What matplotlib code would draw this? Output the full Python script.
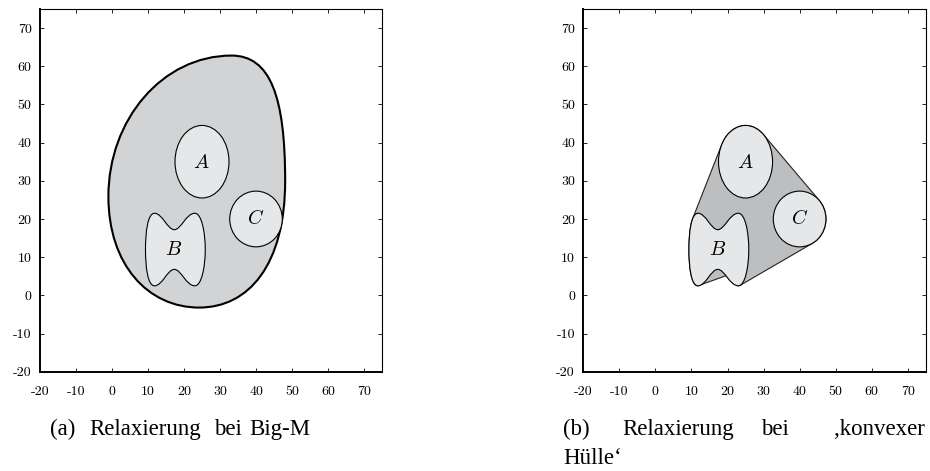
import numpy as np
import matplotlib
matplotlib.use("Agg")
import matplotlib.pyplot as plt
from matplotlib.path import Path
from matplotlib.patches import PathPatch, Ellipse, Polygon

plt.rcParams["mathtext.fontset"] = "cm"
plt.rcParams["axes.unicode_minus"] = False

# axis ticks (both axes)
ticks = [-20, -10, 0, 10, 20, 30, 40, 50, 60, 70]
tick_labels = [str(t) for t in ticks]

# set A: ellipse
A_center = (25.0, 35.0)
A_radii = (7.5, 9.5)

# set C: circle
C_center = (40.0, 20.0)
C_radius = 7.3

# set B: closed cubic bezier (start point, then groups of 3)
B_verts = [
    (11.8, 21.5),
    (14.0, 21.5), (15.4, 17.2), (17.3, 17.2),
    (19.2, 17.2), (20.6, 21.5), (23.0, 21.5),
    (24.9, 21.5), (25.9, 16.5), (25.9, 12.0),
    (25.9, 7.5), (24.9, 2.5), (23.0, 2.5),
    (20.6, 2.5), (19.2, 6.8), (17.3, 6.8),
    (15.4, 6.8), (14.0, 2.5), (11.8, 2.5),
    (9.9, 2.5), (9.3, 7.5), (9.3, 12.0),
    (9.3, 16.5), (9.9, 21.5), (11.8, 21.5),
]

# big-M relaxation outline: top, right, bottom, left extremes
blob_verts = [
    (33.2, 62.8),
    (44.0, 62.8), (48.1, 52.0), (48.1, 30.0),
    (48.1, 8.0), (38.0, -3.2), (24.2, -3.2),
    (10.0, -3.2), (-1.0, 8.0), (-1.0, 25.9),
    (-1.0, 46.0), (14.0, 62.8), (33.2, 62.8),
]

# point on the lower wave of B where the hull edge ends
hull_notch = (19.8, 5.3)

letters = {"A": (24.8, 34.8), "B": (17.2, 11.9), "C": (40.0, 20.0)}

col_blob = "#d1d3d4"
col_hull = "#bcbec0"
col_set = "#e6e7e8"


def bezier_points(verts, n=60):
    v = np.array(verts)
    out = []
    t = np.linspace(0, 1, n)[:, None]
    for i in range(0, len(v) - 1, 3):
        p0, p1, p2, p3 = v[i], v[i + 1], v[i + 2], v[i + 3]
        out.append((1 - t) ** 3 * p0 + 3 * (1 - t) ** 2 * t * p1
                   + 3 * (1 - t) * t ** 2 * p2 + t ** 3 * p3)
    return np.vstack(out)


def bezier_path(verts):
    codes = [Path.MOVETO] + [Path.CURVE4] * (len(verts) - 1)
    return Path(verts, codes)


def convex_hull(pts):
    pts = sorted(map(tuple, pts))

    def cross(o, a, b):
        return (a[0] - o[0]) * (b[1] - o[1]) - (a[1] - o[1]) * (b[0] - o[0])

    lower, upper = [], []
    for q in pts:
        while len(lower) >= 2 and cross(lower[-2], lower[-1], q) <= 0:
            lower.pop()
        lower.append(q)
    for q in reversed(pts):
        while len(upper) >= 2 and cross(upper[-2], upper[-1], q) <= 0:
            upper.pop()
        upper.append(q)
    return lower[:-1] + upper[:-1]


def draw_sets(ax):
    ax.add_patch(Ellipse(A_center, 2 * A_radii[0], 2 * A_radii[1],
                         facecolor=col_set, edgecolor="black", lw=0.8, zorder=3))
    ax.add_patch(Ellipse(C_center, 2 * C_radius, 2 * C_radius,
                         facecolor=col_set, edgecolor="black", lw=0.8, zorder=3))
    ax.add_patch(PathPatch(bezier_path(B_verts), facecolor=col_set,
                           edgecolor="black", lw=0.8, zorder=3))
    for name, (lx, ly) in letters.items():
        ax.text(lx, ly, "$" + name + "$", fontsize=14.5, ha="center",
                va="center", zorder=4)


def style_axes(ax):
    ax.set_xlim(-20, 75)
    ax.set_ylim(-20, 75)
    ax.set_xticks(ticks)
    ax.set_yticks(ticks)
    ax.set_xticklabels(tick_labels, fontfamily="cmr10", fontsize=10)
    ax.set_yticklabels(tick_labels, fontfamily="cmr10", fontsize=10)
    ax.tick_params(direction="in", top=True, right=True, length=3.2, width=0.6)
    ax.tick_params(axis="x", pad=10)
    ax.tick_params(axis="y", pad=6)
    for s in ["left", "bottom"]:
        ax.spines[s].set_linewidth(1.4)
    for s in ["top", "right"]:
        ax.spines[s].set_linewidth(0.8)


fig = plt.figure(figsize=(9.3, 4.71), dpi=100)
W, H = 930.0, 471.0

ax1 = fig.add_axes([40 / W, 1 - 371.7 / H, 342 / W, 362.7 / H])
ax2 = fig.add_axes([583.3 / W, 1 - 371.7 / H, 342.5 / W, 362.7 / H])

# (a) big-M relaxation
ax1.add_patch(PathPatch(bezier_path(blob_verts), facecolor=col_blob,
                        edgecolor="black", lw=1.5, zorder=2))
draw_sets(ax1)
style_axes(ax1)

# (b) convex hull relaxation
t = np.linspace(0, 2 * np.pi, 400)
A_pts = np.column_stack([A_center[0] + A_radii[0] * np.cos(t),
                         A_center[1] + A_radii[1] * np.sin(t)])
C_pts = np.column_stack([C_center[0] + C_radius * np.cos(t),
                         C_center[1] + C_radius * np.sin(t)])
B_pts = bezier_points(B_verts)
hull = convex_hull(np.vstack([A_pts, B_pts, C_pts]))

# replace the flat bottom edge of B by the edge to the wave point
k = np.argmin(np.hypot(B_pts[:, 0] - hull_notch[0], B_pts[:, 1] - hull_notch[1]))
notch_pt = tuple(B_pts[k])
for i in range(len(hull)):
    a, b = hull[i], hull[(i + 1) % len(hull)]
    if a[0] < 15 and b[0] > 20 and a[1] < 4 and b[1] < 4:
        hull.insert(i + 1, notch_pt)
        break

ax2.add_patch(Polygon(hull, closed=True, facecolor=col_hull,
                      edgecolor="#222222", lw=0.8, zorder=2))
draw_sets(ax2)
style_axes(ax2)

# captions (words placed like the justified original)
cap = dict(fontfamily="Liberation Serif", fontsize=16.5, va="baseline", ha="left")
fig.text(50 / W, 1 - 435 / H, "(a)", **cap)
fig.text(89 / W, 1 - 435 / H, "Relaxierung", **cap)
fig.text(214 / W, 1 - 435 / H, "bei", **cap)
fig.text(249 / W, 1 - 435 / H, "Big-M", **cap)
fig.text(563 / W, 1 - 435 / H, "(b)", **cap)
fig.text(622 / W, 1 - 435 / H, "Relaxierung", **cap)
fig.text(761 / W, 1 - 435 / H, "bei", **cap)
fig.text(925 / W, 1 - 435 / H, "\u201akonvexer", **dict(cap, ha="right"))
fig.text(563 / W, 1 - 464 / H, "H\u00fclle\u2018", **cap)

fig.savefig("out.png", dpi=100)
